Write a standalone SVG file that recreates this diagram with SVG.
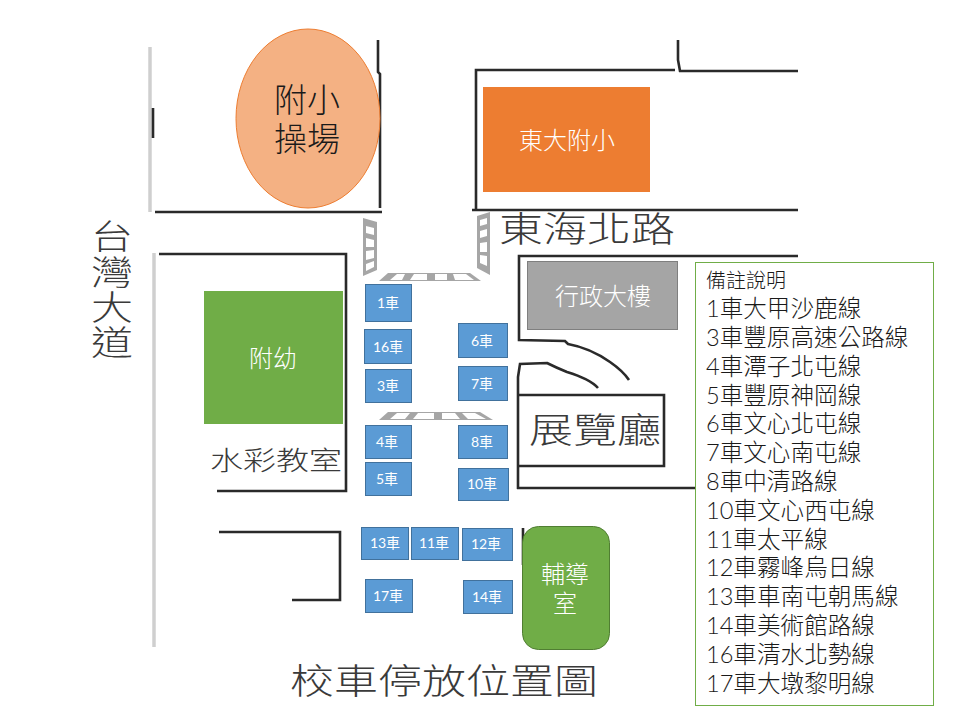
<svg xmlns="http://www.w3.org/2000/svg" width="960" height="720" viewBox="0 0 960 720">
<style>
text{font-family:Lato,"Noto Sans CJK TC",sans-serif}
.wall{fill:none;stroke:#2a2a2a;stroke-width:2.6;stroke-linejoin:miter}
.edge{fill:none;stroke:#cfcfcf;stroke-width:3.5}
.zebra{fill:#a6a6a6}
.stripe{fill:#fff}
.bus rect{fill:#5b9bd5;stroke:#41719c;stroke-width:1}
.bus text{fill:#fff;font-size:14px;text-anchor:middle}
.map{fill:#3a3a3a;font-weight:300}
.note{fill:#1a1a1a;font-size:23.600px;font-weight:300}
.white{fill:#fff;text-anchor:middle;font-weight:300}
</style>
<rect width="960" height="720" fill="#fff"/>
<g id="map-lines">
<path class="edge" d="M150 47V212M154 253V647"/>
<path class="wall" d="M153 108V138"/>
<path class="wall" d="M378 40V72L380 74V208M155 212H382"/>
<path class="wall" d="M159 254H346V491H217"/>
<path class="wall" d="M219 532H340V600H292"/>
<path class="wall" d="M675 70H476V210M472 210H798M678 40V60L680 71H798"/>
<path class="wall" d="M798 256H519V340L565 341L568 344Q590 348 610 362Q623 371 629 380"/>
<path class="wall" d="M598 388Q590 379 567 372Q557 368 547 363L520 364L518 377V489M517 488H695"/>
<path class="wall" d="M518 395H664V466H517"/>
<path class="wall" d="M523 528V565"/>
</g>
<g id="crosswalks">
<path class="zebra" d="M363 218L377 222V270L363 276Z"/>
<path class="stripe" d="M366 226L374 228V235L366 233ZM366 238L374 240V247L366 247ZM366 251L374 250V258L366 260ZM366 264L374 261V267L366 271Z"/>
<path class="zebra" d="M490 212L477 216V268L490 275Z"/>
<path class="stripe" d="M487 218L480 220V226L487 224ZM487 229L480 231V238L487 236ZM487 242L480 243V252L487 252ZM487 256L480 255V263L487 266Z"/>
<path class="zebra" d="M379 281L388 273H470L481 281Z"/>
<path class="stripe" d="M390 280L397 274H405L402 280ZM410 280L414 274H427L427 280ZM435 280V274H447V280ZM455 280L453 274H466L474 280Z"/>
<path class="zebra" d="M379 420L388 412H480L493 420Z"/>
<path class="stripe" d="M390 419L397 413H410L405 419ZM413 419L418 413H434V419ZM442 419V413H455L460 419ZM468 419L462 413H475L486 419Z"/>
</g>
<g id="map-labels">
<text class="map" transform="translate(112 249) scale(1 .8)" font-size="42" text-anchor="middle"><tspan x="0" y="0">台</tspan><tspan x="0" y="44.500">灣</tspan><tspan x="0" y="89">大</tspan><tspan x="0" y="132.500">道</tspan></text>
<text class="map" transform="translate(499 242) scale(1 .8)" font-size="44">東海北路</text>
<text class="map" transform="translate(529 443) scale(1 .8)" font-size="44">展覽廳</text>
<text class="map" transform="translate(210 470) scale(1 .8)" font-size="33">水彩教室</text>
<text class="map" transform="translate(290 694) scale(1 .8)" font-size="44">校車停放位置圖</text>
</g>
<g id="playground">
<ellipse cx="308" cy="118.500" rx="72" ry="89.500" fill="#f4b183" stroke="#ed7d31" stroke-width="1"/>
<text x="307" y="112" font-size="33" font-weight="300" fill="#1a1a1a" text-anchor="middle">附小</text>
<text x="307" y="151" font-size="33" font-weight="300" fill="#1a1a1a" text-anchor="middle">操場</text>
</g>
<g id="elementary">
<rect x="483" y="87" width="167" height="105" fill="#ed7d31"/>
<text class="white" x="567" y="149" font-size="24">東大附小</text>
</g>
<g id="admin">
<rect x="527.500" y="261.500" width="150" height="68" fill="#a5a5a5" stroke="#7f7f7f" stroke-width="1"/>
<text class="white" x="603" y="305" font-size="24">行政大樓</text>
</g>
<g id="kindergarten">
<rect x="204" y="291" width="139" height="133" fill="#70ad47"/>
<text class="white" x="273" y="367" font-size="24">附幼</text>
</g>
<g id="counseling">
<rect x="522.500" y="526.500" width="87" height="123" rx="16" fill="#70ad47" stroke="#507e32" stroke-width="1"/>
<text class="white" x="565" y="583" font-size="24">輔導</text>
<text class="white" x="565" y="612" font-size="24">室</text>
</g>
<g id="bus1" class="bus"><rect x="365.500" y="284.500" width="46" height="37"/><text x="388" y="308">1車</text></g>
<g id="bus16" class="bus"><rect x="364.500" y="329.500" width="47" height="34"/><text x="388" y="352">16車</text></g>
<g id="bus3" class="bus"><rect x="365.500" y="369.500" width="46" height="33"/><text x="388" y="391">3車</text></g>
<g id="bus6" class="bus"><rect x="458.500" y="323.500" width="49" height="34"/><text x="482" y="346">6車</text></g>
<g id="bus7" class="bus"><rect x="458.500" y="366.500" width="49" height="34"/><text x="482" y="389">7車</text></g>
<g id="bus4" class="bus"><rect x="365.500" y="425.500" width="46" height="33"/><text x="387" y="447">4車</text></g>
<g id="bus5" class="bus"><rect x="365.500" y="462.500" width="46" height="33"/><text x="387" y="484">5車</text></g>
<g id="bus8" class="bus"><rect x="458.500" y="425.500" width="49" height="33"/><text x="482" y="447">8車</text></g>
<g id="bus10" class="bus"><rect x="458.500" y="468.500" width="50" height="32"/><text x="482" y="489">10車</text></g>
<g id="bus13" class="bus"><rect x="361.500" y="527.500" width="47" height="32"/><text x="385" y="548">13車</text></g>
<g id="bus11" class="bus"><rect x="411.500" y="527.500" width="47" height="32"/><text x="434" y="548">11車</text></g>
<g id="bus12" class="bus"><rect x="462.500" y="528.500" width="50" height="32"/><text x="486" y="549">12車</text></g>
<g id="bus17" class="bus"><rect x="365.500" y="579.500" width="47" height="33"/><text x="388" y="601">17車</text></g>
<g id="bus14" class="bus"><rect x="463.500" y="580.500" width="49" height="33"/><text x="487" y="602">14車</text></g>
<g id="notes">
<rect x="695.500" y="262.500" width="238" height="443" fill="#fff" stroke="#70ad47" stroke-width="1"/>
<text x="706" y="288" font-size="20" font-weight="300" fill="#1a1a1a">備註說明</text>
<text class="note" x="706" y="317">1車大甲沙鹿線</text>
<text class="note" x="706" y="346">3車豐原高速公路線</text>
<text class="note" x="706" y="375">4車潭子北屯線</text>
<text class="note" x="706" y="404">5車豐原神岡線</text>
<text class="note" x="706" y="432">6車文心北屯線</text>
<text class="note" x="706" y="461">7車文心南屯線</text>
<text class="note" x="706" y="490">8車中清路線</text>
<text class="note" x="706" y="519">10車文心西屯線</text>
<text class="note" x="706" y="548">11車太平線</text>
<text class="note" x="706" y="576">12車霧峰烏日線</text>
<text class="note" x="706" y="605">13車車南屯朝馬線</text>
<text class="note" x="706" y="634">14車美術館路線</text>
<text class="note" x="706" y="663">16車清水北勢線</text>
<text class="note" x="706" y="692">17車大墩黎明線</text>
</g>
</svg>
